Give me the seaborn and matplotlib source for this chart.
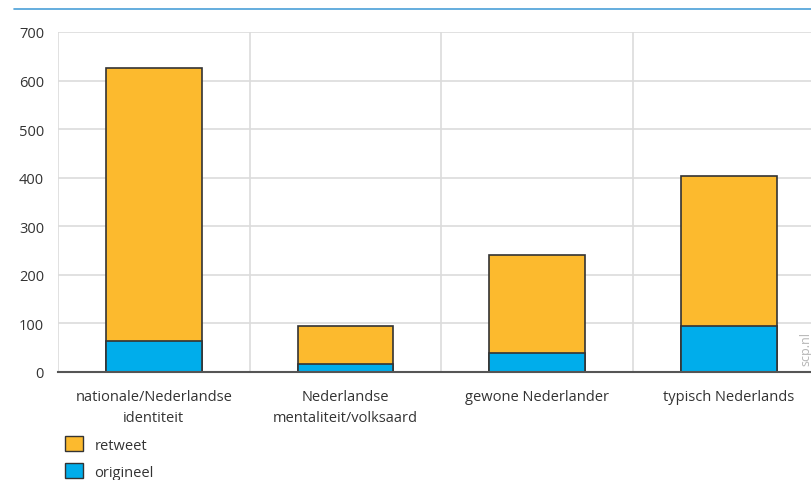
import matplotlib
matplotlib.use("Agg")
import matplotlib.pyplot as plt
import matplotlib.patches as mpatches
import pandas as pd
import seaborn as sns

categories = ["nationale/Nederlandse\nidentiteit", "Nederlandse\nmentaliteit/volksaard",
              "gewone Nederlander", "typisch Nederlands"]
origineel = [64, 16, 40, 95]
retweet = [562, 79, 201, 309]
yticks = [0, 100, 200, 300, 400, 500, 600, 700]

ORANGE = "#fcba2e"
BLUE = "#00adeb"
EDGE = "#333333"

sns.set_theme(style="white")
plt.rcParams["font.family"] = ["Open Sans", "DejaVu Sans"]

df = pd.DataFrame({
    "categorie": categories,
    "origineel": origineel,
    "totaal": [o + r for o, r in zip(origineel, retweet)],
})

fig = plt.figure(figsize=(8.11, 4.81), dpi=100)
ax = fig.add_axes([58 / 811, 1 - 373 / 481, 1 - 58 / 811, 340 / 481])

sns.barplot(data=df, x="categorie", y="totaal", color=ORANGE, width=0.5,
            edgecolor=EDGE, linewidth=1.2, saturation=1, ax=ax)
sns.barplot(data=df, x="categorie", y="origineel", color=BLUE, width=0.5,
            edgecolor=EDGE, linewidth=1.2, saturation=1, ax=ax)

# gridlines: horizontal at ticks, vertical between categories
ax.set_xticks([-0.5, 0.5, 1.5, 2.5], minor=True)
ax.grid(axis="y", color="#dcdcdc", linewidth=1.2)
ax.grid(axis="x", which="minor", color="#dcdcdc", linewidth=1.2)
ax.set_axisbelow(True)

ax.set_xlim(-0.5, 3.43)
ax.set_ylim(0, 700)
ax.set_yticks(yticks)
ax.set_xlabel("")
ax.set_ylabel("")

for s in ["top", "right", "left"]:
    ax.spines[s].set_visible(False)
ax.spines["bottom"].set_color("#555555")
ax.spines["bottom"].set_linewidth(1.5)

ax.tick_params(axis="x", which="major", length=5, width=1, color="#555555",
               labelsize=10.5, labelcolor="#333333", pad=7)
ax.tick_params(axis="x", which="minor", length=0)
ax.tick_params(axis="y", length=0, labelsize=10.5, labelcolor="#333333", pad=10)
for lab in ax.get_xticklabels():
    lab.set_linespacing(1.55)

# blue line at top
fig.add_artist(plt.Line2D([14 / 811, 1], [1 - 9.5 / 481, 1 - 9.5 / 481],
                          color="#4a9fd8", linewidth=1.2))

fig.text(799 / 811, 1 - 366 / 481, "scp.nl", rotation=90, color="#b5b5b5",
         fontsize=9, ha="left", va="bottom")

handles = [mpatches.Patch(facecolor=ORANGE, edgecolor=EDGE, label="retweet"),
           mpatches.Patch(facecolor=BLUE, edgecolor=EDGE, label="origineel")]
fig.legend(handles=handles, loc="lower left", bbox_to_anchor=(52 / 811, -0.027),
           frameon=False, fontsize=10.5, handlelength=1.2, handleheight=1.2,
           handletextpad=0.8, labelspacing=0.75, labelcolor="#333333")

fig.savefig("out.png", dpi=100)
